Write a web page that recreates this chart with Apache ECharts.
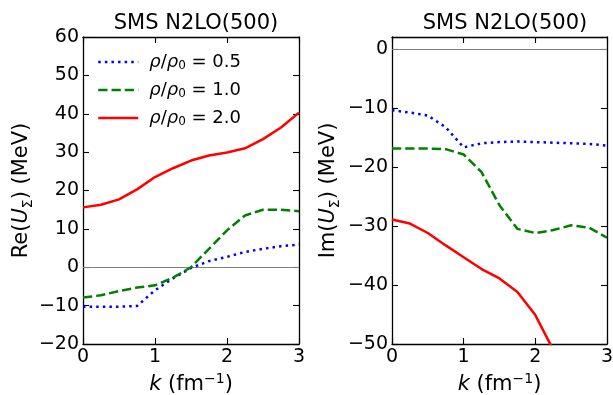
<!DOCTYPE html>
<html>
<head>
<meta charset="utf-8">
<script src="https://cdn.jsdelivr.net/npm/echarts@6/dist/echarts.min.js"></script>
<style>
  html, body { margin: 0; padding: 0; background: #fff; }
  #chart { width: 613px; height: 395px; }
</style>
</head>
<body>
<div id="chart"></div>
<script>
// k grid (fm^-1)
const kVals = [0, 0.25, 0.5, 0.75, 1.0, 1.25, 1.5, 1.75, 2.0, 2.25, 2.5, 2.75, 3.0];
const densities = ['0.5', '1.0', '2.0'];

// Re(U_Sigma) in MeV
const re05 = [-10.3, -10.3, -10.3, -10.1, -6.0, -2.9, -0.2, 1.6, 2.7, 4.0, 4.8, 5.5, 5.9];
const re10 = [-7.9, -7.3, -6.2, -5.3, -4.7, -2.7, 0.0, 4.8, 9.6, 13.5, 15.0, 15.0, 14.6];
const re20 = [15.6, 16.3, 17.7, 20.3, 23.5, 25.8, 27.8, 29.1, 29.9, 31.0, 33.4, 36.4, 40.3];

// Im(U_Sigma) in MeV
const im05 = [-10.4, -10.8, -11.3, -13.3, -16.7, -16.0, -15.8, -15.7, -15.8, -15.9, -16.0, -16.1, -16.4];
const im10 = [-16.9, -16.9, -16.9, -17.0, -17.9, -20.9, -26.5, -30.5, -31.2, -30.7, -29.9, -30.3, -32.0];
const im20 = [-28.9, -29.6, -31.2, -33.3, -35.3, -37.3, -38.9, -41.2, -45.1, -51.0, null, null, null];

const reTicks = { min: -20, max: 60, interval: 10 };
const imTicks = { min: -50, max: 2, interval: 10 };

const FONT = 'DejaVu Sans';
const pairs = arr => kVals.map((k, i) => [k, arr[i]]).filter(p => p[1] !== null);
const minus = v => String(v).replace('-', '\u2212');

const styles = {
  '0.5': { color: '#0000ff', type: [2.5, 4.1] },
  '1.0': { color: '#008000', type: [9.25, 4] },
  '2.0': { color: '#ff0000', type: 'solid' }
};

const frame = { show: true, onZero: false, lineStyle: { color: '#000', width: 1.3 } };
const ticksIn = { show: true, inside: true, length: 6, lineStyle: { color: '#000', width: 1.1 } };

const nameStyle = {
  fontFamily: FONT, fontSize: 21, color: '#000', lineHeight: 26,
  rich: {
    i: { fontFamily: FONT, fontSize: 21, fontStyle: 'italic', color: '#000', lineHeight: 26 },
    sup: { fontFamily: FONT, fontSize: 14, color: '#000', verticalAlign: 'top', lineHeight: 14 },
    sub: { fontFamily: FONT, fontSize: 14, color: '#000', verticalAlign: 'bottom', lineHeight: 14 }
  }
};

function xAxes(gridIndex) {
  return [
    {
      type: 'value', gridIndex, min: 0, max: 3, interval: 1,
      axisLine: frame, axisTick: ticksIn, splitLine: { show: false },
      axisLabel: { fontFamily: FONT, fontSize: 19, color: '#000', margin: 4 },
      name: '{i|k} (fm{sup|\u22121})', nameLocation: 'middle', nameGap: 28,
      nameTextStyle: nameStyle
    },
    {
      type: 'value', gridIndex, position: 'top', min: 0, max: 3, interval: 1,
      axisLine: frame, axisTick: ticksIn, axisLabel: { show: false }, splitLine: { show: false }
    }
  ];
}

function yAxes(gridIndex, t, label, gap) {
  return [
    {
      type: 'value', gridIndex, min: t.min, max: t.max, interval: t.interval,
      axisLine: frame, axisTick: ticksIn, splitLine: { show: false },
      axisLabel: {
        fontFamily: FONT, fontSize: 19, color: '#000', margin: 4,
        formatter: v => (v % t.interval === 0 ? minus(v) : '')
      },
      name: label + '({i|U}{sub|\u03a3}) (MeV)', nameLocation: 'middle', nameRotate: 90, nameGap: gap,
      nameTextStyle: nameStyle
    },
    {
      type: 'value', gridIndex, position: 'right', min: t.min, max: t.max, interval: t.interval,
      axisLine: frame, axisTick: ticksIn, axisLabel: { show: false }, splitLine: { show: false }
    }
  ];
}

function makeSeries(name, data, axisBase, withZero) {
  const s = styles[name];
  const obj = {
    name, type: 'line', data: pairs(data),
    xAxisIndex: axisBase, yAxisIndex: axisBase,
    showSymbol: false, symbol: 'none', smooth: false, clip: true,
    lineStyle: { color: s.color, width: 2.5, type: s.type, cap: 'butt' },
    itemStyle: { color: s.color },
    emphasis: { disabled: true },
    z: 3
  };
  if (withZero) {
    obj.markLine = {
      silent: true, symbol: 'none', label: { show: false },
      lineStyle: { color: '#808080', width: 1, type: 'solid' },
      emphasis: { disabled: true },
      data: [{ yAxis: 0 }], z: 1
    };
  }
  return obj;
}

const chart = echarts.init(document.getElementById('chart'), null, { renderer: 'canvas' });
chart.setOption({
  animation: false,
  backgroundColor: '#fff',
  textStyle: { fontFamily: FONT },
  title: [
    { text: 'SMS N2LO(500)', left: 191, top: 8, textAlign: 'center',
      textStyle: { fontFamily: FONT, fontSize: 21, fontWeight: 'normal', color: '#000' } },
    { text: 'SMS N2LO(500)', left: 500, top: 8, textAlign: 'center',
      textStyle: { fontFamily: FONT, fontSize: 21, fontWeight: 'normal', color: '#000' } }
  ],
  legend: {
    data: densities, orient: 'vertical', left: 92, top: 48, itemGap: 9,
    itemWidth: 40, itemHeight: 20,
    itemStyle: { opacity: 0 },
    lineStyle: { width: 2.5 },
    formatter: name => '{i|\u03c1}/{i|\u03c1}{sub|0} = ' + name,
    textStyle: {
      fontFamily: FONT, fontSize: 18, color: '#000', padding: [0, 0, 0, 6],
      rich: {
        i: { fontFamily: FONT, fontSize: 18, fontStyle: 'italic', color: '#000' },
        sub: { fontFamily: FONT, fontSize: 12, color: '#000', verticalAlign: 'bottom', padding: [8, 0, 0, 0] }
      }
    }
  },
  grid: [
    { left: 83, right: 314, top: 37, bottom: 51, outerBoundsMode: 'none' },
    { left: 392, right: 6, top: 37, bottom: 51, outerBoundsMode: 'none' }
  ],
  xAxis: [...xAxes(0), ...xAxes(1)],
  yAxis: [...yAxes(0, reTicks, 'Re', 48), ...yAxes(1, imTicks, 'Im', 50)],
  series: [
    makeSeries('0.5', re05, 0, true),
    makeSeries('1.0', re10, 0, false),
    makeSeries('2.0', re20, 0, false),
    makeSeries('0.5', im05, 2, true),
    makeSeries('1.0', im10, 2, false),
    makeSeries('2.0', im20, 2, false)
  ]
});
</script>
</body>
</html>
